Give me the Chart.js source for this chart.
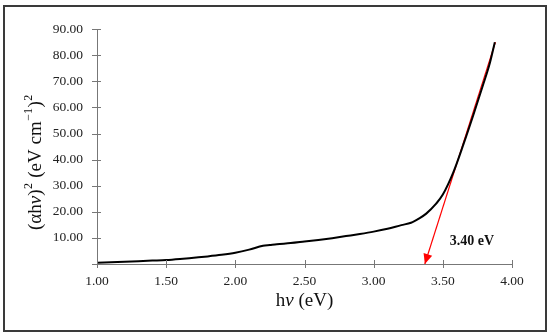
<!DOCTYPE html>
<html>
<head>
<meta charset="utf-8">
<script src="https://cdn.jsdelivr.net/npm/chart.js@4.4.1/dist/chart.umd.min.js"></script>
<style>
  html, body { margin: 0; padding: 0; background: #fff; }
  #frame {
    position: absolute; left: 3px; top: 5px;
    width: 540px; height: 323px;
    border: 2px solid #3a3a3a;
  }
  #frame canvas { display: block; }
</style>
</head>
<body>
<div id="frame"><canvas id="taucChart" width="540" height="323"></canvas></div>
<script>
// photon energy hν (eV)
const energy = [1.00, 1.10, 1.20, 1.30, 1.40, 1.50, 1.60, 1.70, 1.80, 1.90, 2.00, 2.10, 2.20, 2.25,
                2.30, 2.40, 2.50, 2.60, 2.70, 2.80, 2.90, 3.00, 3.10, 3.20, 3.27, 3.33, 3.38, 3.45,
                3.50, 3.575, 3.65, 3.72, 3.79, 3.84, 3.876];
// (αhν)^2
const absorb = [0.5, 0.7, 0.9, 1.1, 1.3, 1.5, 1.9, 2.4, 2.9, 3.5, 4.3, 5.5, 7.0, 7.3,
                7.6, 8.0, 8.6, 9.2, 9.9, 10.7, 11.5, 12.4, 13.5, 14.9, 15.8, 17.5, 19.3, 23.0,
                26.6, 35.0, 46.0, 57.0, 68.5, 77.0, 85.0];
// linear fit extrapolated to the x axis
const fitX = [3.88, 3.37];
const fitY = [85.0, 0.0];
const gapLabel = '3.40 eV';
const xTicks = [1.0, 1.5, 2.0, 2.5, 3.0, 3.5, 4.0];
const yTicks = [0, 10, 20, 30, 40, 50, 60, 70, 80, 90];

const serif = '"Liberation Serif", "Times New Roman", serif';

// [text, style]; style: '' normal, 'i' italic, 's' superscript
const xTitle = [['h', ''], ['ν', 'i'], [' (eV)', '']];
const yTitle = [['(αh', ''], ['ν', 'i'], [')', ''], ['2', 's'], [' (eV cm', ''], ['−1', 's'], [')', ''], ['2', 's']];

function partFont(style, size) {
    if (style === 's') return Math.round(size * 0.62) + 'px ' + serif;
    return (style === 'i' ? 'italic ' : '') + size + 'px ' + serif;
}

function drawParts(ctx, parts, size, cx, cy) {
    let total = 0;
    parts.forEach(p => { ctx.font = partFont(p[1], size); total += ctx.measureText(p[0]).width + (p[1] === 's' ? 1 : 0); });
    let x = cx - total / 2;
    ctx.fillStyle = '#111';
    ctx.textBaseline = 'middle';
    ctx.textAlign = 'left';
    parts.forEach(p => {
        ctx.font = partFont(p[1], size);
        const dy = p[1] === 's' ? -size * 0.38 : 0;
        ctx.fillText(p[0], x + (p[1] === 's' ? 0.5 : 0), cy + dy);
        x += ctx.measureText(p[0]).width + (p[1] === 's' ? 1 : 0);
    });
}

// tick marks that cross the axis line, arrowhead, label and axis titles
const decorPlugin = {
    id: 'decor',
    afterDraw(chart) {
        const ctx = chart.ctx;
        const xs = chart.scales.x, ys = chart.scales.y;
        const area = chart.chartArea;
        ctx.save();
        ctx.strokeStyle = '#777';
        ctx.lineWidth = 1;
        xTicks.forEach(v => {
            const px = Math.round(xs.getPixelForValue(v)) + 0.5;
            ctx.beginPath();
            ctx.moveTo(px, area.bottom - 4);
            ctx.lineTo(px, area.bottom + 4);
            ctx.stroke();
        });
        yTicks.forEach(v => {
            const py = Math.round(ys.getPixelForValue(v)) + 0.5;
            ctx.beginPath();
            ctx.moveTo(area.left - 5, py);
            ctx.lineTo(area.left + 4, py);
            ctx.stroke();
        });

        // arrowhead at end of the fit line
        const x1 = xs.getPixelForValue(fitX[0]), y1 = ys.getPixelForValue(fitY[0]);
        const x2 = xs.getPixelForValue(fitX[1]), y2 = ys.getPixelForValue(fitY[1]);
        const ang = Math.atan2(y2 - y1, x2 - x1);
        const len = 10, half = 4.5;
        ctx.fillStyle = '#ff0000';
        ctx.beginPath();
        ctx.moveTo(x2, y2);
        ctx.lineTo(x2 - len * Math.cos(ang) + half * Math.sin(ang), y2 - len * Math.sin(ang) - half * Math.cos(ang));
        ctx.lineTo(x2 - len * Math.cos(ang) - half * Math.sin(ang), y2 - len * Math.sin(ang) + half * Math.cos(ang));
        ctx.closePath();
        ctx.fill();

        // band gap label
        ctx.fillStyle = '#111';
        ctx.font = 'bold 14px ' + serif;
        ctx.textBaseline = 'middle';
        ctx.textAlign = 'left';
        ctx.fillText(gapLabel, xs.getPixelForValue(3.55), ys.getPixelForValue(8.8));

        drawParts(ctx, xTitle, 19, (area.left + area.right) / 2, area.bottom + 37);

        ctx.save();
        ctx.translate(31, area.top + 133);
        ctx.rotate(-Math.PI / 2);
        drawParts(ctx, yTitle, 19, 0, 0);
        ctx.restore();
        ctx.restore();
    }
};

document.addEventListener("DOMContentLoaded", function() {
    const ctx = document.getElementById('taucChart').getContext('2d');

    new Chart(ctx, {
        type: 'scatter',
        data: {
            datasets: [{
                label: 'Tauc',
                data: energy.map((e, i) => ({ x: e, y: absorb[i] })),
                showLine: true,
                borderColor: '#000',
                borderWidth: 2,
                pointRadius: 0,
                cubicInterpolationMode: 'monotone'
            }, {
                label: 'fit',
                data: fitX.map((e, i) => ({ x: e, y: fitY[i] })),
                showLine: true,
                borderColor: '#ff0000',
                borderWidth: 1.2,
                pointRadius: 0
            }]
        },
        options: {
            responsive: false,
            animation: false,
            layout: { padding: { left: 0, right: 33, top: 16, bottom: 0 } },
            scales: {
                x: {
                    type: 'linear',
                    min: 1, max: 4,
                    afterBuildTicks: s => { s.ticks = xTicks.map(v => ({ value: v })); },
                    afterFit: s => { s.height = 66; },
                    border: { display: true, color: '#777', width: 1 },
                    grid: { display: false, drawTicks: false },
                    ticks: {
                        padding: 9,
                        color: '#222',
                        font: { family: serif, size: 13.5 },
                        callback: v => v.toFixed(2)
                    }
                },
                y: {
                    min: 0, max: 90,
                    afterBuildTicks: s => { s.ticks = yTicks.map(v => ({ value: v })); },
                    afterFit: s => { s.width = 92; },
                    border: { display: true, color: '#777', width: 1 },
                    grid: { display: false, drawTicks: false },
                    ticks: {
                        padding: 14,
                        color: '#222',
                        font: { family: serif, size: 13.5 },
                        callback: v => v === 0 ? '' : v.toFixed(2)
                    }
                }
            },
            plugins: {
                legend: { display: false },
                tooltip: { enabled: false }
            }
        },
        plugins: [decorPlugin]
    });
});
</script>
</body>
</html>
